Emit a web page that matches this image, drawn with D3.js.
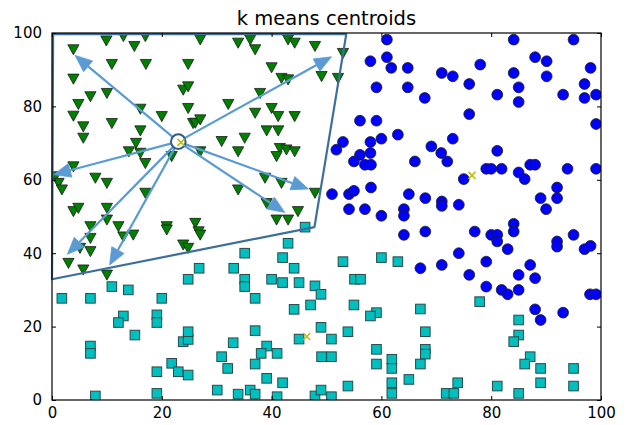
<!DOCTYPE html>
<html>
<head>
<meta charset="utf-8">
<script src="https://cdn.jsdelivr.net/npm/d3@7"></script>
<style>
  html, body { margin: 0; padding: 0; background: #fff; }
  svg { display: block; }
  text { font-family: "DejaVu Sans", sans-serif; fill: #000; }
</style>
</head>
<body>
<svg id="chart" width="636" height="425"></svg>
<script>
const title = "k means centroids";
const xTicks = [0, 20, 40, 60, 80, 100];
const yTicks = [0, 20, 40, 60, 80, 100];

const greenPts = [
[9.9,97.9],[13.0,99.1],[17.0,99.1],[15.0,96.4],[3.9,95.5],[10.9,91.5],[17.1,91.5],[24.8,91.5],
[3.9,87.5],[7.0,82.7],[10.0,83.6],[4.8,80.6],[3.9,77.4],[16.1,79.3],[20.0,77.3],[24.8,79.5],
[23.9,84.5],[24.8,85.4],[5.7,74.5],[5.7,71.4],[10.9,75.4],[16.1,73.4],[25.7,75.4],[27.0,98.2],
[33.9,97.3],[36.1,98.2],[37.0,95.5],[43.0,98.2],[44.2,97.3],[47.9,96.4],[53.0,94.5],[40.0,90.6],
[49.1,88.2],[52.1,87.7],[41.8,87.7],[43.0,87.3],[37.9,83.6],[32.1,80.6],[37.0,78.2],[40.0,79.5],
[41.2,77.3],[44.2,77.3],[26.1,75.5],[27.0,76.4],[39.1,73.4],[41.2,73.4],[35.1,71.4],[30.9,70.5],
[33.9,67.7],[41.5,68.6],[42.7,68.2],[44.2,67.7],[27.0,67.7],[14.0,67.7],[15.3,70.0],[16.1,67.3],
[17.0,64.5],[21.8,66.4],[3.9,63.6],[0.6,60.9],[1.2,59.1],[1.8,57.3],[7.9,60.5],[10.0,59.1],
[17.0,56.4],[3.9,51.4],[4.8,52.3],[10.0,52.3],[10.0,49.1],[7.0,47.3],[12.1,47.3],[14.8,45.0],
[13.0,44.5],[7.0,44.1],[20.9,47.3],[20.9,46.4],[26.1,48.2],[26.7,45.9],[23.9,42.3],[24.8,41.4],
[5.1,41.4],[7.0,40.5],[3.0,37.3],[5.7,35.5],[10.0,34.1],[40.9,66.4],[38.8,60.5],[41.8,59.1],
[33.9,57.3],[47.9,56.4],[39.1,53.6],[44.8,51.4],[40.9,49.1],[43.0,49.1],[27.0,45.0]
];

const bluePts = [
[61.0,98.2],[61.0,93.4],[58.0,92.3],[61.8,90.5],[64.8,90.5],[71.0,89.1],[73.0,88.2],[76.0,86.1],
[59.1,85.2],[64.8,85.2],[67.9,82.3],[76.0,77.9],[56.1,76.1],[59.1,76.1],[63.0,72.3],[60.0,71.2],
[58.0,70.3],[53.0,70.3],[51.8,68.2],[73.0,71.2],[69.1,69.1],[70.9,67.3],[56.1,66.8],[58.0,67.3],
[84.1,98.2],[95.0,98.2],[78.0,91.4],[88.0,93.4],[90.1,92.3],[98.1,90.5],[84.1,89.1],[90.1,88.2],
[85.0,85.2],[81.1,83.2],[85.0,81.2],[93.1,83.2],[97.0,86.1],[97.0,82.3],[99.1,83.2],[99.1,75.2],
[81.1,67.9],[55.0,65.0],[57.0,64.1],[58.1,64.1],[66.1,65.0],[72.0,65.0],[75.0,60.2],[51.0,56.1],
[54.1,56.1],[55.0,57.0],[58.1,57.9],[65.0,56.1],[68.0,55.0],[71.0,54.1],[71.0,52.9],[74.1,53.2],
[54.1,52.0],[57.0,52.0],[60.0,50.2],[64.1,52.0],[64.1,50.2],[64.1,45.0],[68.0,45.9],[74.1,40.0],
[71.0,36.8],[67.1,35.9],[76.0,34.1],[79.1,63.0],[80.0,63.0],[81.9,63.0],[85.0,62.0],[86.1,60.2],
[87.1,64.1],[88.0,64.1],[93.9,63.0],[99.1,63.0],[89.0,55.0],[92.0,57.9],[92.0,55.0],[90.0,52.0],
[77.0,45.9],[80.0,45.0],[81.1,45.0],[81.1,43.2],[83.0,41.1],[84.1,48.0],[84.1,45.9],[92.0,43.2],
[92.0,41.8],[95.0,45.0],[97.0,41.1],[98.1,42.0],[79.1,37.7],[85.0,34.1],[87.1,36.8],[88.0,33.2],
[79.1,30.9],[81.9,30.0],[83.0,28.8],[85.0,30.0],[88.0,24.7],[89.0,21.8],[93.1,23.8],[98.0,28.8],
[99.1,28.8]
];

const cyanPts = [
[1.8,27.7],[7.0,27.7],[10.9,30.9],[13.9,30.0],[20.0,27.7],[13.0,22.9],[12.1,21.1],[15.1,17.7],
[19.1,23.2],[19.1,21.1],[7.0,14.7],[7.0,12.7],[7.9,1.1],[19.1,7.7],[19.1,1.8],[21.8,10.0],
[23.0,7.7],[24.8,6.8],[23.9,15.9],[24.8,16.5],[24.8,18.6],[24.8,32.9],[26.8,35.9],[43.0,42.7],
[35.1,40.0],[42.0,38.8],[33.1,35.9],[44.1,35.9],[53.0,37.7],[35.1,32.9],[35.1,30.9],[40.0,32.9],
[42.0,32.0],[45.0,32.0],[47.9,31.1],[49.0,28.8],[37.0,27.7],[44.1,24.7],[47.1,25.9],[55.1,32.9],
[55.0,25.9],[49.0,19.8],[37.0,18.9],[45.0,16.6],[50.9,16.6],[53.9,18.6],[33.0,15.6],[39.1,14.7],
[38.1,12.7],[41.0,12.7],[30.9,11.8],[32.0,8.6],[37.0,9.8],[49.1,11.8],[50.9,11.8],[39.1,5.9],
[42.0,4.7],[30.1,2.7],[33.9,1.6],[36.1,2.7],[37.0,1.6],[41.0,0.9],[47.9,1.1],[49.0,2.7],
[50.9,0.9],[53.9,3.8],[60.0,38.8],[63.0,37.7],[56.2,32.9],[59.1,23.8],[58.0,22.9],[67.1,24.8],
[77.9,26.8],[68.0,18.6],[59.1,13.8],[68.0,13.8],[68.0,12.5],[59.1,9.8],[61.9,11.1],[61.9,8.6],
[67.1,9.8],[65.0,5.6],[61.9,4.7],[61.9,1.8],[71.8,1.8],[73.2,1.8],[73.9,4.7],[85.0,21.8],
[85.0,17.7],[84.1,15.9],[87.1,11.8],[86.1,9.8],[89.0,8.6],[95.0,8.6],[89.0,4.7],[95.0,3.8],
[81.1,3.8],[85.0,1.8],[46.1,47.1]
];

const centroids = [[23.5,70.2],[76.5,61.2],[46.4,17.3]];
const highlightCenter = [23.0,70.4];
const polygonPts = [[0.2,99.7],[53.6,99.7],[47.8,47.1],[0.0,32.9]];
const arrowTargets = [[4.2,93.9],[50.9,93.5],[0.3,61.4],[2.8,39.7],[10.5,36.8],[46.7,57.5],[42.4,51.1]];

const svg = d3.select("#chart");
const L = 52, R = 601, T = 33, B = 400;
const x = d3.scaleLinear().domain([0,100]).range([L,R]);
const y = d3.scaleLinear().domain([0,100]).range([B,T]);

const plot = svg.append("g");

svg.append("defs").append("clipPath").attr("id","clip")
  .append("rect").attr("x",L).attr("y",T).attr("width",R-L).attr("height",B-T);
const inner = plot.append("g").attr("clip-path","url(#clip)");

const edge = "#1a1a1a";
const tri = 5.6;
inner.selectAll("path.tri").data(greenPts).enter().append("path")
  .attr("class","tri")
  .attr("d", d => {
    const cx = x(d[0]), cy = y(d[1]);
    return `M${cx-tri},${cy-tri*0.85}L${cx+tri},${cy-tri*0.85}L${cx},${cy+tri*0.95}Z`;
  })
  .attr("fill","#008000").attr("stroke",edge).attr("stroke-width",0.8);

inner.selectAll("circle.b").data(bluePts).enter().append("circle")
  .attr("class","b")
  .attr("cx", d => x(d[0])).attr("cy", d => y(d[1])).attr("r", 5.4)
  .attr("fill","#0000ff").attr("stroke",edge).attr("stroke-width",0.8);

const sq = 4.8;
inner.selectAll("rect.c").data(cyanPts).enter().append("rect")
  .attr("class","c")
  .attr("x", d => x(d[0]) - sq).attr("y", d => y(d[1]) - sq)
  .attr("width", sq*2).attr("height", sq*2)
  .attr("fill","#00bfbf").attr("stroke","#2a4a4a").attr("stroke-width",1);

function drawX(g, d) {
  const cx = x(d[0]), cy = y(d[1]), s = 3.5;
  g.append("path").attr("d", `M${cx-s},${cy-s}L${cx+s},${cy+s}M${cx-s},${cy+s}L${cx+s},${cy-s}`)
    .attr("stroke","#bfbf00").attr("stroke-width",1.5).attr("fill","none");
}
centroids.forEach(d => drawX(inner, d));

const line = d3.line().x(d => x(d[0])).y(d => y(d[1]));
plot.append("path")
  .attr("d", line(polygonPts) + "Z")
  .attr("fill","none").attr("stroke","#3d6e9c").attr("stroke-width",2.2)
  .attr("stroke-linejoin","round");

const arrowColor = "#5a9bd4";
const cx0 = x(highlightCenter[0]), cy0 = y(highlightCenter[1]);
arrowTargets.forEach(t => {
  const tx = x(t[0]), ty = y(t[1]);
  const dx = tx - cx0, dy = ty - cy0;
  const len = Math.hypot(dx, dy);
  const ux = dx/len, uy = dy/len;
  const hl = 17, hw = 7;
  const bx = tx - ux*hl, by = ty - uy*hl;
  plot.append("line").attr("x1",cx0).attr("y1",cy0).attr("x2",bx).attr("y2",by)
    .attr("stroke",arrowColor).attr("stroke-width",2.2);
  plot.append("path")
    .attr("d", `M${tx},${ty}L${bx - uy*hw},${by + ux*hw}L${bx + uy*hw},${by - ux*hw}Z`)
    .attr("fill",arrowColor).attr("stroke",arrowColor).attr("stroke-width",0.8);
});

plot.append("circle").attr("cx",cx0).attr("cy",cy0).attr("r",7.3)
  .attr("fill","#fff").attr("stroke","#2f5d86").attr("stroke-width",2);
drawX(plot, centroids[0]);

plot.append("rect").attr("x",L).attr("y",T).attr("width",R-L).attr("height",B-T)
  .attr("fill","none").attr("stroke","#000").attr("stroke-width",1.2);

const fs = "15px";
const ax = svg.append("g").attr("transform",`translate(0,${B})`)
  .call(d3.axisBottom(x).tickValues(xTicks).tickSizeInner(-4).tickSizeOuter(0).tickPadding(7).tickFormat(d3.format("d")));
const ay = svg.append("g").attr("transform",`translate(${L},0)`)
  .call(d3.axisLeft(y).tickValues(yTicks).tickSizeInner(-4).tickSizeOuter(0).tickPadding(10).tickFormat(d3.format("d")));
const at = svg.append("g").attr("transform",`translate(0,${T})`)
  .call(d3.axisTop(x).tickValues(xTicks).tickSizeInner(-4).tickSizeOuter(0).tickFormat(""));
const ar = svg.append("g").attr("transform",`translate(${R},0)`)
  .call(d3.axisRight(y).tickValues(yTicks).tickSizeInner(-4).tickSizeOuter(0).tickFormat(""));
[ax, ay, at, ar].forEach(g => {
  g.select(".domain").remove();
  g.selectAll(".tick line").attr("stroke","#000").attr("stroke-width",1);
  g.selectAll("text").attr("font-family","DejaVu Sans").attr("font-size",fs).attr("fill","#000");
});

svg.append("text").attr("x",(L+R)/2).attr("y",25).attr("text-anchor","middle")
  .attr("font-size","19.5px").text(title);
</script>
</body>
</html>
